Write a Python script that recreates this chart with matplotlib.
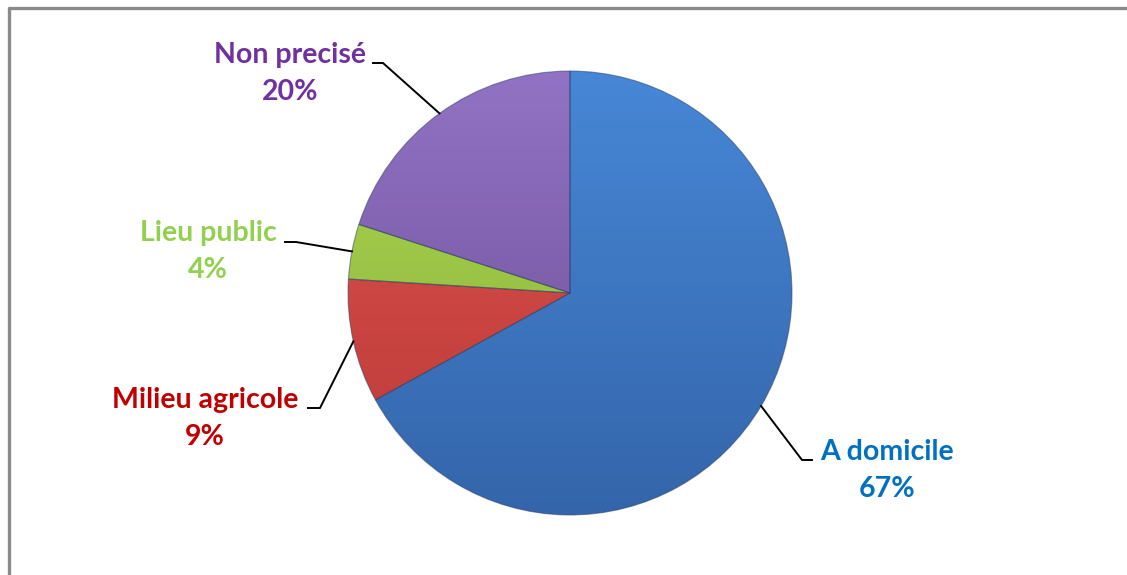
import numpy as np
import matplotlib.pyplot as plt
from matplotlib.colors import LinearSegmentedColormap

labels = ["A domicile", "Milieu agricole", "Lieu public", "Non precisé"]
values = [67, 9, 4, 20]
top_colors = ["#4787D6", "#E0524E", "#AED653", "#9272C4"]
bottom_colors = ["#3465AA", "#B83A38", "#86AE36", "#6A4C94"]
text_colors = ["#0070C0", "#C00000", "#92D050", "#7030A0"]

W, H = 1127, 575
cx, cy, r = 570, H - 293, 222

# label text centres (px) and leader elbows (px), image coords
label_pos = [(887, 452), (205, 400), (208, 233), (290, 55)]
elbow_pts = [[(802, 460), (812, 460)],
             [(320, 408), (308, 408)],
             [(296, 242), (285, 242)],
             [(383, 63), (373, 63)]]

fig = plt.figure(figsize=(W / 100, H / 100), dpi=100)
ax = fig.add_axes([0, 0, 1, 1])

# frame (only top and left are visible in the crop)
ax.plot([8, W + 5], [H - 7.5, H - 7.5], color="#8a8a8a", lw=2.4, solid_capstyle="butt")
ax.plot([8.5, 8.5], [-5, H - 6.5], color="#8a8a8a", lw=2.4, solid_capstyle="butt")

wedges, _ = ax.pie(values, startangle=90, counterclock=False, center=(cx, cy),
                   radius=r, frame=True)
ax.set_xlim(0, W)
ax.set_ylim(0, H)
ax.set_aspect("equal")
ax.axis("off")

grad = np.linspace(0, 1, 256).reshape(-1, 1)
for w, c1, c2 in zip(wedges, top_colors, bottom_colors):
    w.set_facecolor("none")
    cmap = LinearSegmentedColormap.from_list("g", [c2, c1])
    im = ax.imshow(grad, cmap=cmap, origin="lower", aspect="auto",
                   extent=(cx - r, cx + r, cy - r, cy + r), zorder=1)
    im.set_clip_path(w)
    w.set_zorder(2)
    w.set_edgecolor("#2a3f6080")
    w.set_linewidth(0.8)

for w, lab, v, tc, (lx, ly), elb in zip(wedges, labels, values, text_colors, label_pos, elbow_pts):
    ang = np.deg2rad((w.theta1 + w.theta2) / 2)
    px, py = cx + r * np.cos(ang), cy + r * np.sin(ang)
    xs = [px] + [e[0] for e in elb]
    ys = [py] + [H - e[1] for e in elb]
    ax.plot(xs, ys, color="black", lw=1.4, zorder=3)
    ax.text(lx, H - ly, lab, color=tc, fontsize=20.5, fontweight="bold",
            ha="center", va="center", family=["Lato", "DejaVu Sans"])
    ax.text(lx, H - ly - 37, f"{v}%", color=tc, fontsize=20.5, fontweight="bold",
            ha="center", va="center", family=["Lato", "DejaVu Sans"])

fig.savefig("out.png", dpi=100, facecolor="white")
